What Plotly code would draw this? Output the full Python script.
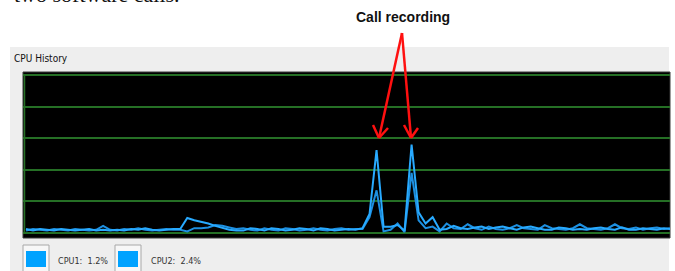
import plotly.graph_objects as go

W, H = 675, 271

# ---- data (percent CPU over time samples) ----
cpu1 = [1.5, 2.5, 2.0, 1.5, 2.5, 2.0, 1.5, 2.5, 2.0, 1.5, 2.0,
        4.5,
        2.0, 1.5, 2.5, 2.0, 3.0, 2.0, 1.5, 2.0, 2.5, 2.0,
        2.0, 1.0, 3.0, 3.0, 3.5, 5.0, 4.5, 3.5, 2.5,
        3.0, 2.0, 1.5, 3.0, 2.0, 1.5, 3.0, 2.5, 1.5, 2.0, 3.0, 2.0, 1.5, 2.5, 3.0, 2.0, 2.5,
        2.5, 10.0, 27.0, 1.0, 2.0, 6.0, 0.5, 38.0, 8.0, 3.0, 4.0, 1.0,
        6.0, 3.0, 2.5, 5.5, 3.0, 2.0, 4.0, 2.5, 2.0, 3.0, 5.0, 3.0, 2.5, 2.0, 5.0, 3.0, 2.5,
        2.0, 3.0, 5.5, 3.0, 2.5, 2.0, 3.0, 5.5, 3.0, 2.5, 3.5, 2.0, 3.0, 3.5, 2.5, 3.0]
cpu2 = [2.5, 1.5, 2.5, 2.0, 1.5, 2.5, 2.0, 1.5, 2.0, 2.5, 1.5,
        2.0,
        1.5, 2.0, 1.5, 2.5, 2.0, 3.0, 2.0, 1.5, 2.0, 2.5,
        2.5, 9.5, 8.0, 7.0, 6.0, 4.5, 3.0, 2.0, 1.5,
        1.5, 3.0, 2.5, 1.5, 3.0, 2.5, 1.5, 2.0, 3.0, 2.5, 1.5, 3.0, 2.5, 1.5, 2.0, 2.5, 2.0,
        3.0, 12.0, 52.5, 4.0, 4.0, 5.0, 1.5, 56.0, 13.0, 6.0, 10.0, 2.0,
        2.5, 4.5, 3.0, 2.5, 3.5, 4.0, 2.5, 3.5, 4.0, 3.0, 2.0, 3.5, 4.0, 3.0, 2.0, 2.0, 3.5,
        3.0, 2.0, 2.5, 2.0, 3.0, 3.5, 2.5, 2.0, 3.5, 2.0, 2.0, 3.0, 2.5, 2.0, 3.0, 2.5]
samples = list(range(len(cpu1)))
grid_ticks = [0, 20, 40, 60, 80, 100]
legend_labels = ["CPU1:\u00a0\u00a01.2%", "CPU2:\u00a0\u00a02.4%"]
page_text = "two software calls."
callout_text = "Call recording"
panel_title = "CPU History"


def px(x):
    return x / W


def py(y):
    return (H - y) / H


fig = go.Figure()
fig.add_trace(go.Scatter(x=samples, y=cpu1, mode="lines",
                         line=dict(color="#1d8fe0", width=2), hoverinfo="skip"))
fig.add_trace(go.Scatter(x=samples, y=cpu2, mode="lines",
                         line=dict(color="#28aaff", width=2), hoverinfo="skip"))

shapes = []
# grey panel
shapes.append(dict(type="rect", xref="paper", yref="paper", layer="below",
                   x0=px(10), x1=px(669), y0=py(275), y1=py(47),
                   fillcolor="#eeeeee", line=dict(width=0)))
# black chart area
shapes.append(dict(type="rect", xref="paper", yref="paper", layer="below",
                   x0=px(23), x1=px(670), y0=py(238), y1=py(72),
                   fillcolor="#000000", line=dict(color="#3a3a3a", width=1)))
# left green frame line
shapes.append(dict(type="line", xref="paper", yref="paper",
                   x0=px(24.5), x1=px(24.5), y0=py(233), y1=py(75),
                   line=dict(color="#256f25", width=1.5)))
# legend boxes
for bx in (23, 115):
    shapes.append(dict(type="rect", xref="paper", yref="paper",
                       x0=px(bx), x1=px(bx + 26), y0=py(276), y1=py(245),
                       fillcolor="#f7f7f7", line=dict(color="#a8a8a8", width=1)))
    shapes.append(dict(type="rect", xref="paper", yref="paper",
                       x0=px(bx + 3), x1=px(bx + 23), y0=py(267), y1=py(251),
                       fillcolor="#00a2ff", line=dict(width=0)))
# red arrows
red = dict(color="#ff1010", width=2.5)
apex = (402, 33)
for tip, armL, armR in (((379, 138), (373, 125), (388, 128)),
                        ((411, 138), (404, 125), (418, 128))):
    shapes.append(dict(type="line", xref="paper", yref="paper",
                       x0=px(apex[0]), y0=py(apex[1]), x1=px(tip[0]), y1=py(tip[1]), line=red))
    for arm in (armL, armR):
        shapes.append(dict(type="line", xref="paper", yref="paper",
                           x0=px(arm[0]), y0=py(arm[1]), x1=px(tip[0]), y1=py(tip[1]), line=red))

annotations = [
    dict(text=page_text, xref="paper", yref="paper", x=px(12), y=py(9),
         xanchor="left", yanchor="bottom", showarrow=False,
         font=dict(family="Liberation Serif", size=22, color="#111111")),
    dict(text="<b>" + callout_text + "</b>", xref="paper", yref="paper", x=px(403), y=py(17),
         xanchor="center", yanchor="middle", showarrow=False,
         font=dict(family="Liberation Sans", size=14, color="#111111")),
    dict(text=panel_title, xref="paper", yref="paper", x=px(12), y=py(58),
         xanchor="left", yanchor="middle", showarrow=False,
         font=dict(family="DejaVu Sans Condensed, DejaVu Sans", size=10, color="#111111")),
    dict(text=legend_labels[0], xref="paper", yref="paper", x=px(56), y=py(261),
         xanchor="left", yanchor="middle", showarrow=False,
         font=dict(family="DejaVu Sans Condensed, DejaVu Sans", size=9, color="#333333")),
    dict(text=legend_labels[1], xref="paper", yref="paper", x=px(149), y=py(261),
         xanchor="left", yanchor="middle", showarrow=False,
         font=dict(family="DejaVu Sans Condensed, DejaVu Sans", size=9, color="#333333")),
]

fig.update_layout(
    width=W, height=H,
    margin=dict(l=0, r=0, t=0, b=0),
    paper_bgcolor="#ffffff",
    plot_bgcolor="#000000",
    showlegend=False,
    shapes=shapes,
    annotations=annotations,
    xaxis=dict(domain=[px(23), px(670)], range=[-0.43, 91.86],
               showgrid=False, zeroline=False, showticklabels=False, ticks="",
               fixedrange=True),
    yaxis=dict(domain=[py(238), py(72)], range=[-3.2, 101.9],
               tickvals=grid_ticks, showgrid=True, gridcolor="#256f25", gridwidth=1.5,
               zeroline=False, showticklabels=False, ticks="", fixedrange=True),
)

fig.write_html("out.html", config={"displayModeBar": False},
               post_script="document.body.style.margin='0';document.body.style.overflow='hidden';")
